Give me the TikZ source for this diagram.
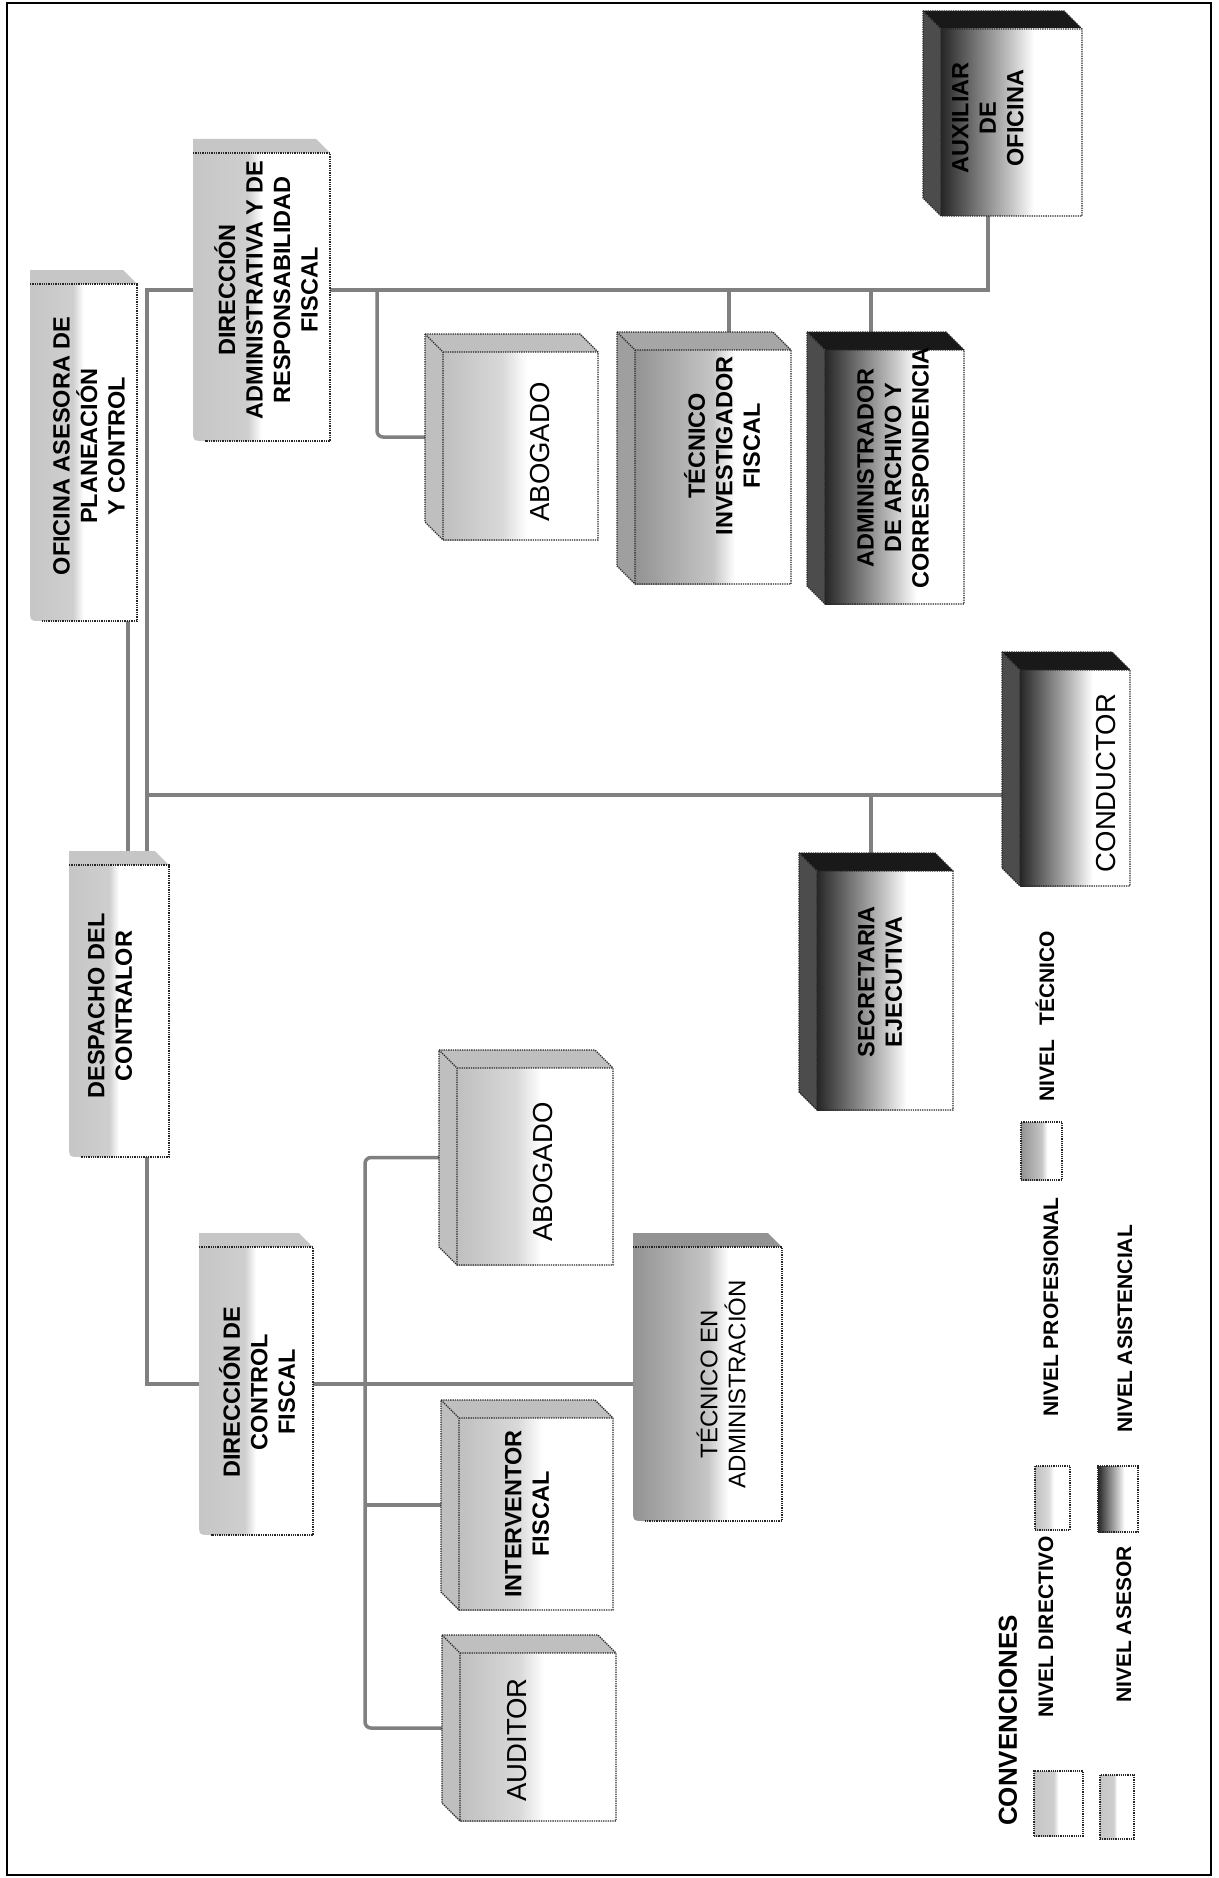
\documentclass[tikz,border=0pt]{standalone}
\usepackage{fontspec}
\setmainfont{Liberation Sans}

\colorlet{cDir}{gray!45}
\colorlet{cDirB}{gray!38}
\colorlet{cProf}{gray!50}
\colorlet{cProfB}{gray!30}
\colorlet{cTec}{gray!85}
\colorlet{cTecB}{gray!45}
\colorlet{cAsis}{black!85}
\colorlet{cAsisB}{gray!45}

\pgfdeclarehorizontalshading{sdir}{100bp}{color(0bp)=(cDir); color(25bp)=(cDir); color(45bp)=(cDirB); color(50bp)=(white); color(100bp)=(white)}
\pgfdeclarehorizontalshading{sprof}{100bp}{color(0bp)=(cProf); color(25bp)=(cProf); color(44bp)=(cProfB); color(52bp)=(white); color(100bp)=(white)}
\pgfdeclarehorizontalshading{stec}{100bp}{color(0bp)=(cTec); color(25bp)=(cTec); color(50bp)=(cTecB); color(57bp)=(white); color(100bp)=(white)}
\pgfdeclarehorizontalshading{sasis}{100bp}{color(0bp)=(cAsis); color(25bp)=(cAsis); color(50bp)=(cAsisB); color(58bp)=(white); color(100bp)=(white)}

% flat box: name, top colour, shading
\newcommand{\plana}[3]{%
  \fill[#2] (#1.north west) -- ([xshift=-14pt]#1.north east) -- ([yshift=-14pt]#1.north east) -- ([yshift=-14pt]#1.north west) -- cycle;
  \shade[shading=#3] ([yshift=-14pt]#1.north west) -- ([yshift=-14pt]#1.north east) -- (#1.south east) -- ([xshift=12pt]#1.south west) .. controls (#1.south west) .. ([yshift=12pt]#1.south west) -- cycle;
  \draw[borde] ([yshift=-14pt]#1.north west) -- ([yshift=-14pt]#1.north east) -- (#1.south east) -- ([xshift=12pt]#1.south west);
}
% box with depth: name, top colour, side colour, shading
\newcommand{\cubo}[4]{%
  \fill[#2] (#1.north west) -- ([xshift=-18pt]#1.north east) -- ([yshift=-18pt]#1.north east) -- ([xshift=18pt,yshift=-18pt]#1.north west) -- cycle;
  \fill[#3] (#1.north west) -- ([xshift=18pt,yshift=-18pt]#1.north west) -- ([xshift=18pt]#1.south west) -- ([yshift=18pt]#1.south west) -- cycle;
  \shade[shading=#4] ([xshift=18pt,yshift=-18pt]#1.north west) rectangle (#1.south east);
  \draw[borde] (#1.north west) -- ([xshift=-18pt]#1.north east) -- ([yshift=-18pt]#1.north east) -- (#1.south east) -- ([xshift=18pt]#1.south west) -- ([yshift=18pt]#1.south west) -- cycle;
  \draw[borde] (#1.north west) -- ([xshift=18pt,yshift=-18pt]#1.north west) -- ([xshift=18pt]#1.south west) ([xshift=18pt,yshift=-18pt]#1.north west) -- ([yshift=-18pt]#1.north east);
}

\begin{document}
\begin{tikzpicture}[x=1pt, y=-1pt,
  linea/.style={draw=black!50, line width=3.5pt},
  borde/.style={draw=black!85, densely dotted, line width=1.3pt},
  caja/.style={draw=none, inner sep=0pt, outer sep=0pt},
  txt/.style={rotate=90, align=center, inner sep=0pt, font=\fontsize{23.5}{27.5}\selectfont\bfseries},
  txtN/.style={rotate=90, align=center, inner sep=0pt, font=\fontsize{27.5}{32}\selectfont},
  txtM/.style={rotate=90, align=center, inner sep=0pt, font=\fontsize{24}{28}\selectfont},
  ley/.style={rotate=90, anchor=west, inner sep=0pt, font=\fontsize{21}{25}\selectfont\bfseries},
  muestra/.style={shade, draw=black!85, densely dotted, line width=1.2pt, inner sep=0pt}]
\useasboundingbox (0,0) rectangle (1218,1878);
\draw[line width=2.5pt] (7,3) rectangle (1211,1875);

\path (83.5,445.5) node[caja, minimum width=107, minimum height=351] (ofic) {};
\path (261.5,290) node[caja, minimum width=137, minimum height=302] (dirAdm) {};
\path (119,1004) node[caja, minimum width=100, minimum height=306] (despacho) {};
\path (256,1384) node[caja, minimum width=114, minimum height=302] (dirCtrl) {};
\path (707.5,1377) node[caja, minimum width=149, minimum height=288] (tecAdm) {};
\path (511.5,437) node[caja, minimum width=173, minimum height=206] (abogadoA) {};
\path (704,458) node[caja, minimum width=174, minimum height=252] (tecInv) {};
\path (885.5,468) node[caja, minimum width=157, minimum height=272] (archivo) {};
\path (1002.5,113.5) node[caja, minimum width=159, minimum height=205] (auxiliar) {};
\path (876,981.5) node[caja, minimum width=154, minimum height=257] (secretaria) {};
\path (1066,769) node[caja, minimum width=128, minimum height=234] (conductor) {};
\path (526,1157.5) node[caja, minimum width=174, minimum height=215] (abogadoB) {};
\path (527,1505) node[caja, minimum width=172, minimum height=210] (interventor) {};
\path (529,1728) node[caja, minimum width=174, minimum height=186] (auditor) {};

\coordinate (tA) at (128,0);
\coordinate (tB) at (147,0);
\coordinate (busC) at (147,795);
\coordinate (tD) at (365,0);
\coordinate (tE) at (377,0);
\coordinate (tF) at (729,0);
\coordinate (tG) at (871,0);
\coordinate (tH) at (988,0);

\draw[linea] (ofic.south -| tA) -- (despacho.north -| tA);
\draw[linea] (dirAdm.west) -| (despacho.north -| tB);
\draw[linea] (busC) -- (busC -| conductor.west);
\draw[linea] (busC -| tG) -- (secretaria.north -| tG);
\draw[linea] (despacho.south -| tB) |- (dirCtrl.west);
\draw[linea] (dirCtrl.east) -- (dirCtrl.east -| tecAdm.west);
\draw[linea, rounded corners=6pt] (abogadoB.west) -| (tD |- interventor.west) |- (auditor.west);
\draw[linea] (tD |- interventor.west) -- (interventor.west);
\draw[linea] (dirAdm.east) -| (auxiliar.south -| tH);
\draw[linea, rounded corners=6pt] (dirAdm.east -| tE) |- (abogadoA.west);
\draw[linea] (dirAdm.east -| tF) -- (tecInv.north -| tF);
\draw[linea] (dirAdm.east -| tG) -- (archivo.north -| tG);

\plana{ofic}{cDir}{sdir}
\plana{dirAdm}{cDir}{sdir}
\plana{despacho}{cDir}{sdir}
\plana{dirCtrl}{cDir}{sdir}
\plana{tecAdm}{cTec}{stec}

\foreach \nom in {abogadoA, abogadoB, interventor, auditor}
  {\cubo{\nom}{cProf}{cProf}{sprof}}
\cubo{tecInv}{gray!70}{gray!75}{stec}
\foreach \nom in {archivo, auxiliar, secretaria, conductor}
  {\cubo{\nom}{black!90}{black!70}{sasis}}

\path (89,446) node[txt] (oficT) {OFICINA ASESORA DE\\PLANEACIÓN\\Y CONTROL};
\path (266,290) node[txt] (dirAdmT) {DIRECCIÓN\\ADMINISTRATIVA Y DE\\RESPONSABILIDAD\\FISCAL};
\path (110,1006) node[txt] (despachoT) {DESPACHO DEL\\CONTRALOR};
\path (257,1392) node[txt] (dirCtrlT) {DIRECCIÓN DE\\CONTROL\\FISCAL};
\path (721,1384) node[txtM] (tecAdmT) {TÉCNICO EN\\ADMINISTRACIÓN};
\path (540,452) node[txtN] (abogadoAT) {ABOGADO};
\path (722,446) node[txt] (tecInvT) {TÉCNICO\\INVESTIGADOR\\FISCAL};
\path (893,468) node[txt] (archivoT) {ADMINISTRADOR\\DE ARCHIVO Y\\CORRESPONDENCIA};
\path (988,118) node[txt] (auxiliarT) {AUXILIAR\\DE\\OFICINA};
\path (880,982) node[txt] (secretariaT) {SECRETARIA\\EJECUTIVA};
\path (1106,783) node[txtN] (conductorT) {CONDUCTOR};
\path (543,1172) node[txtN] (abogadoBT) {ABOGADO};
\path (527,1514) node[txt] (interventorT) {INTERVENTOR\\FISCAL};
\path (517,1740) node[txtN] (auditorT) {AUDITOR};

\path (1008,1826) node[ley, font=\fontsize{26}{30}\selectfont\bfseries] (conv) {CONVENCIONES};
\path (1058.5,1803.5) node[muestra, shading=sdir, minimum width=49, minimum height=65] (swDir) {};
\path (1117,1807) node[muestra, shading=sdir, minimum width=34, minimum height=64] (swAse) {};
\path (1052.5,1498) node[muestra, shading=sprof, minimum width=35, minimum height=64] (swPro) {};
\path (1118,1499) node[muestra, shading=sasis, minimum width=40, minimum height=66] (swAsi) {};
\path (1041.5,1151) node[muestra, shading=stec, minimum width=41, minimum height=58] (swTec) {};
\path (1046,1718) node[ley] (lDir) {NIVEL DIRECTIVO};
\path (1124,1703) node[ley] (lAse) {NIVEL ASESOR};
\path (1051,1417) node[ley] (lPro) {NIVEL PROFESIONAL};
\path (1125,1433) node[ley] (lAsi) {NIVEL ASISTENCIAL};
\path (1045,1102) node[ley] (lTec) {NIVEL\hspace{0.7em}TÉCNICO};
\end{tikzpicture}
\end{document}
